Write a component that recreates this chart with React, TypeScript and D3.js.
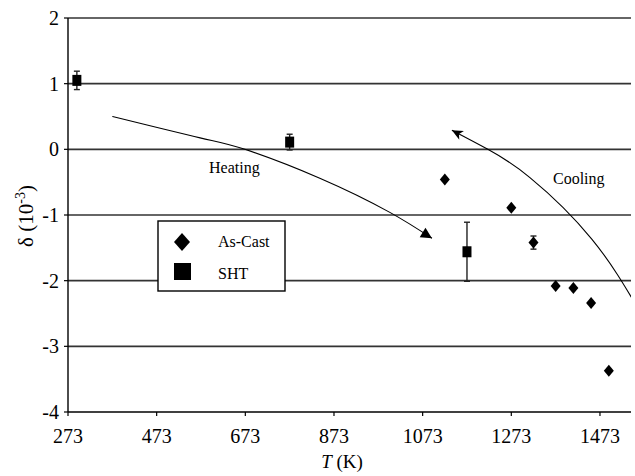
import React from "react";
import * as d3 from "d3";

// Dilatation δ (×10⁻³) against temperature T (K)
const asCastT = [1123, 1273, 1323, 1373, 1413, 1453, 1493];
const asCastD = [-0.46, -0.89, -1.42, -2.08, -2.11, -2.34, -3.37];
const asCastErr = [0, 0, 0.1, 0, 0, 0, 0];

const shtT = [293, 773, 1173];
const shtD = [1.05, 0.11, -1.56];
const shtErr = [0.14, 0.12, 0.45];

// Hand-drawn trend arrows, in data coordinates (T, δ); the last point is the arrow tip
const heatingT = [373, 571, 672, 841, 999, 1094];
const heatingD = [0.5, 0.175, 0, -0.44, -0.96, -1.355];
const coolingT = [1563, 1455, 1315, 1220, 1139];
const coolingD = [-2.47, -1.37, -0.43, 0, 0.29];

const xTicks = [273, 473, 673, 873, 1073, 1273, 1473];
const yTicks = [-4, -3, -2, -1, 0, 1, 2];

const W = 635;
const H = 476;
const FONT = "'Liberation Serif', 'Times New Roman', serif";

export default function App() {
  const x = d3.scaleLinear().domain([273, 1543]).range([68, 631]);
  const y = d3.scaleLinear().domain([-4, 2]).range([412, 18]);

  const line = d3
    .line<[number, number]>()
    .x((d) => x(d[0]))
    .y((d) => y(d[1]))
    .curve(d3.curveNatural);

  const heatPts: [number, number][] = heatingT.map((t, i) => [t, heatingD[i]]);
  const coolPts: [number, number][] = coolingT.map((t, i) => [t, coolingD[i]]);

  const arrowHead = (pts: [number, number][], len: number, half: number, notch: number) => {
    const a = pts[pts.length - 2];
    const b = pts[pts.length - 1];
    const ax = x(a[0]), ay = y(a[1]);
    const bx = x(b[0]), by = y(b[1]);
    const L = Math.hypot(bx - ax, by - ay);
    const ux = (bx - ax) / L, uy = (by - ay) / L;
    const nx = -uy, ny = ux;
    const backX = bx - ux * len, backY = by - uy * len;
    const p1 = [backX + nx * half, backY + ny * half];
    const p2 = [backX - nx * half, backY - ny * half];
    const pn = [bx - ux * (len - notch), by - uy * (len - notch)];
    return `M${bx},${by}L${p1[0]},${p1[1]}L${pn[0]},${pn[1]}L${p2[0]},${p2[1]}Z`;
  };

  const diamond = (cx: number, cy: number, w: number, h: number) =>
    `M${cx},${cy - h / 2}L${cx + w / 2},${cy}L${cx},${cy + h / 2}L${cx - w / 2},${cy}Z`;

  const x0 = x.range()[0];
  const x1 = x.range()[1];

  return (
    <svg
      width={W}
      height={H}
      style={{ position: "absolute", left: 0, top: 0, background: "#fff", fontFamily: FONT }}
    >
      <defs>
        <clipPath id="plotClip">
          <rect x={x0} y={y(2)} width={x1 - x0} height={y(-4) - y(2)} />
        </clipPath>
      </defs>

      {/* horizontal gridlines */}
      {yTicks
        .filter((v) => v > -4)
        .map((v) => (
          <line key={"g" + v} x1={x0} x2={x1} y1={y(v)} y2={y(v)} stroke="#333" strokeWidth={1.7} />
        ))}

      {/* axes */}
      <line x1={x0} x2={x0} y1={y(2)} y2={y(-4)} stroke="#000" strokeWidth={1.4} />
      <line x1={x0} x2={x1} y1={y(-4)} y2={y(-4)} stroke="#000" strokeWidth={1.4} />

      {yTicks.map((v) => (
        <g key={"yt" + v}>
          <line x1={x0 - 4} x2={x0} y1={y(v)} y2={y(v)} stroke="#000" strokeWidth={1.2} />
          <text x={x0 - 9} y={y(v)} dy="0.35em" textAnchor="end" fontSize={20}>
            {v}
          </text>
        </g>
      ))}

      {xTicks.map((v) => (
        <g key={"xt" + v}>
          <line x1={x(v)} x2={x(v)} y1={y(-4)} y2={y(-4) + 4} stroke="#000" strokeWidth={1.2} />
          <text x={x(v)} y={443} textAnchor="middle" fontSize={20}>
            {v}
          </text>
        </g>
      ))}

      {/* axis titles */}
      <text x={342} y={468} textAnchor="middle" fontSize={19}>
        <tspan fontStyle="italic">T</tspan> (K)
      </text>
      <text transform={`translate(33, 216) rotate(-90)`} textAnchor="middle" fontSize={21}>
        δ (10
        <tspan fontSize={14} dy={-8}>
          -3
        </tspan>
        <tspan dy={8}>)</tspan>
      </text>

      {/* trend arrows */}
      <g clipPath="url(#plotClip)">
        <path d={line(heatPts) || ""} fill="none" stroke="#000" strokeWidth={1.1} />
        <path d={line(coolPts) || ""} fill="none" stroke="#000" strokeWidth={1.1} />
      </g>
      <path d={arrowHead(heatPts, 11, 5.5, 0)} fill="#000" />
      <path d={arrowHead(coolPts, 11, 5, 3)} fill="#000" />

      <text x={209} y={173} fontSize={16}>
        Heating
      </text>
      <text x={553} y={184} fontSize={16}>
        Cooling
      </text>

      {/* error bars */}
      {shtT.map((t, i) =>
        shtErr[i] > 0 ? (
          <g key={"se" + i} stroke="#222" strokeWidth={1.4}>
            <line x1={x(t)} x2={x(t)} y1={y(shtD[i] + shtErr[i])} y2={y(shtD[i] - shtErr[i])} />
            <line x1={x(t) - 3} x2={x(t) + 3} y1={y(shtD[i] + shtErr[i])} y2={y(shtD[i] + shtErr[i])} />
            <line x1={x(t) - 3} x2={x(t) + 3} y1={y(shtD[i] - shtErr[i])} y2={y(shtD[i] - shtErr[i])} />
          </g>
        ) : null
      )}
      {asCastT.map((t, i) =>
        asCastErr[i] > 0 ? (
          <g key={"ae" + i} stroke="#222" strokeWidth={1.4}>
            <line x1={x(t)} x2={x(t)} y1={y(asCastD[i] + asCastErr[i])} y2={y(asCastD[i] - asCastErr[i])} />
            <line x1={x(t) - 3} x2={x(t) + 3} y1={y(asCastD[i] + asCastErr[i])} y2={y(asCastD[i] + asCastErr[i])} />
            <line x1={x(t) - 3} x2={x(t) + 3} y1={y(asCastD[i] - asCastErr[i])} y2={y(asCastD[i] - asCastErr[i])} />
          </g>
        ) : null
      )}

      {/* markers */}
      {shtT.map((t, i) => (
        <rect key={"s" + i} x={x(t) - 4.5} y={y(shtD[i]) - 5.5} width={9} height={11} fill="#000" />
      ))}
      {asCastT.map((t, i) => (
        <path key={"a" + i} d={diamond(x(t), y(asCastD[i]), 10, 12)} fill="#000" />
      ))}

      {/* legend */}
      <rect x={158} y={221} width={127} height={70} fill="#fff" stroke="#000" strokeWidth={1.4} />
      <path d={diamond(182, 242, 16, 18)} fill="#000" />
      <text x={218} y={247} fontSize={16}>
        As-Cast
      </text>
      <rect x={174} y={263} width={17} height={17} fill="#000" />
      <text x={218} y={279} fontSize={16}>
        SHT
      </text>
    </svg>
  );
}
